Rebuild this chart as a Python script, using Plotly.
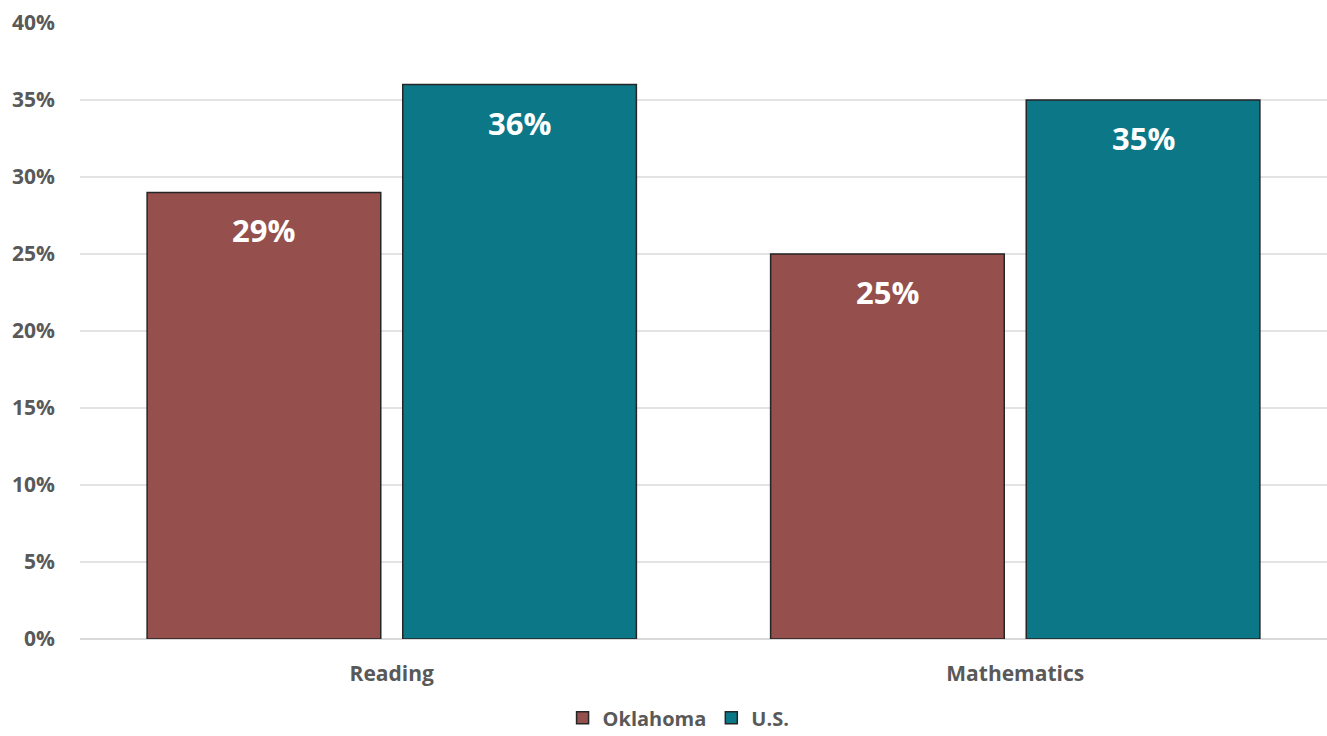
import plotly.graph_objects as go

categories = ["Reading", "Mathematics"]
oklahoma = [29, 25]
us = [36, 35]
series_names = ["Oklahoma", "U.S."]
tick_vals = [0, 5, 10, 15, 20, 25, 30, 35, 40]
tick_text = [f"{v}%" for v in tick_vals]

colors = ["#954F4C", "#0B7787"]
FONT = "Open Sans"
GRAY = "#595959"

fig = go.Figure()
for name, vals, col in zip(series_names, [oklahoma, us], colors):
    fig.add_trace(go.Bar(
        x=categories, y=vals, name=name,
        marker=dict(color=col, line=dict(color="#262626", width=1.5)),
        hoverinfo="skip",
    ))

# value labels inside bars, near the top
offsets = [-128, 128]
for vals, dx in zip([oklahoma, us], offsets):
    for c, v in zip(categories, vals):
        fig.add_annotation(
            x=c, y=v, xref="x", yref="y", text=f"{v}%", showarrow=False,
            xshift=dx, yshift=-15, yanchor="top",
            font=dict(family=FONT, size=31, color="white", weight="bold"),
        )

fig.update_layout(
    width=1327, height=736,
    margin=dict(l=80, r=0, t=23, b=97, autoexpand=False),
    paper_bgcolor="white", plot_bgcolor="white",
    barmode="group", bargap=0.18, bargroupgap=0.086,
    font=dict(family=FONT, color=GRAY),
    legend=dict(orientation="h", x=0.48, xanchor="center", y=-0.128, yanchor="middle",
                font=dict(family=FONT, size=20, color=GRAY, weight="bold"),
                itemwidth=30, traceorder="normal"),
    xaxis=dict(showgrid=False, showline=False, ticks="",
               tickfont=dict(family=FONT, size=21, color=GRAY, weight="bold"),
               ticklabelstandoff=20, automargin=False),
    yaxis=dict(range=[0, 40], tickvals=tick_vals, ticktext=tick_text,
               showgrid=True, gridcolor="#E3E3E3", gridwidth=1.5,
               zeroline=True, zerolinecolor="#D9D9D9", zerolinewidth=1.5,
               showline=False, ticks="",
               tickfont=dict(family=FONT, size=21, color=GRAY, weight="bold"),
               ticklabelstandoff=24, automargin=False),
)

fig.write_html("out.html")
